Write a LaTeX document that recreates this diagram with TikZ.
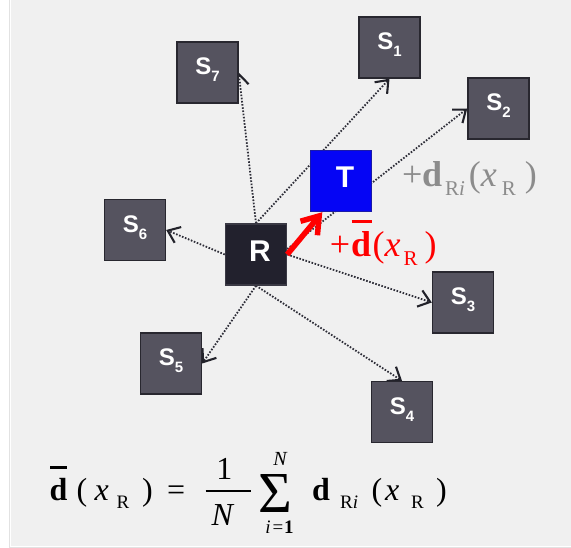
\documentclass[tikz,border=0pt]{standalone}
\usepackage{fontspec}
\setmainfont{Liberation Serif}
\newfontfamily\lsans{Liberation Sans}
\usetikzlibrary{arrows.meta,backgrounds,calc}
\definecolor{bggray}{HTML}{F0F0F0}
\definecolor{bgedge}{HTML}{E2E2E2}
\definecolor{boxfill}{HTML}{55535F}
\definecolor{boxedge}{HTML}{28272F}
\definecolor{rfill}{HTML}{22212D}
\definecolor{redge}{HTML}{3A3944}
\definecolor{tfill}{HTML}{0505F5}
\definecolor{tedge}{HTML}{1A1AA8}
\definecolor{linecol}{HTML}{2E2E38}
\definecolor{tipcol}{HTML}{22222A}
\definecolor{labgray}{HTML}{8C8C8C}
\newcommand{\Slab}[1]{{\fontsize{24}{24}\selectfont S}\raisebox{-7pt}{\fontsize{15}{15}\selectfont #1}}
\newcommand{\bard}[4]{\leavevmode\rlap{\hspace{#1}\rule[#2]{#3}{#4}}\textbf{d}}
\newcommand{\sub}[2]{\raisebox{-#1}{\fontsize{21}{21}\selectfont #2}}
\begin{document}
\begin{tikzpicture}[x=1pt,y=-1pt,
  sbox/.style={rectangle, minimum size=61pt, inner sep=0pt, fill=boxfill, draw=boxedge,
    line width=1.4pt, text=white, font=\lsans\bfseries, text height=4.5pt, text depth=0pt},
  bigbox/.style={rectangle, minimum size=61pt, inner sep=0pt, text=white,
    font=\lsans\bfseries\fontsize{30}{30}\selectfont, text height=14pt, text depth=0pt, line width=1.4pt},
  ray/.style={draw=linecol, line width=1.8pt, dash pattern=on 1.6pt off 1.6pt,
    -{Straight Barb[length=11pt,width=17pt,line width=2.1pt,color=tipcol]}},
  redarrow/.style={draw=red, line width=5.5pt, -{Straight Barb[length=16pt,width=22pt]}},
  lab/.style={anchor=base west, inner sep=0pt, font=\fontsize{36}{36}\selectfont},
  eqm/.style={inner sep=0pt, font=\fontsize{32}{32}\selectfont},
  eqs/.style={inner sep=0pt, font=\fontsize{19}{19}\selectfont},
]
\useasboundingbox (0,0) rectangle (571,548);

\node[sbox] (S7) at (207.5,72.5) {\Slab{7}};
\node[sbox] (S1) at (389.5,47.5) {\Slab{1}};
\node[sbox] (S2) at (498.5,108.5) {\Slab{2}};
\node[sbox] (S6) at (135,230) {\Slab{6}};
\node[sbox] (S3) at (463,302.5) {\Slab{3}};
\node[sbox] (S5) at (171,363.5) {\Slab{5}};
\node[sbox] (S4) at (402,412) {\Slab{4}};
\node[bigbox, fill=rfill, draw=redge] (R) at (256,254.5) {\hspace{8pt}R};
\node[bigbox, fill=tfill, draw=tedge] (T) at (341,181) {\hspace{8pt}T};

\begin{scope}[on background layer]
  \fill[bggray] (10.5,0) rectangle (571,546);
  \draw[bgedge, line width=0.6pt] (9.5,0) -- (9.5,547) -- (571,547);
  \draw[ray] (R.north) -- (S7.east);
  \draw[ray] (R.north) -- (S1.south);
  \draw[ray] (R.10) -- (S2.west);
  \draw[ray] (R.west) -- (S6.east);
  \draw[ray] (R.east) -- (S3.west);
  \draw[ray] (R.south) -- (S4.north);
  \draw[ray] (R.south) -- (S5.east);
\end{scope}

\coordinate (tip) at ($(T.south west)!0.2!(T.south east)$);
\draw[redarrow] (R.east) -- (tip);

% labels
\node[lab, text=red] (lred) at (329.6,257)
  {+\hspace{1pt}\bard{0.5pt}{34pt}{20pt}{3pt}\hspace{1.5pt}(\textit{x}\hspace{3pt}\sub{8.6pt}{R}\hspace{7pt})};
\node[lab, text=labgray] (lgray) at (402,187)
  {+\hspace{-0.5pt}\textbf{d}\hspace{3pt}\sub{8.7pt}{R\textit{i}}\hspace{4pt}(\textit{x}\hspace{5pt}\sub{8.7pt}{R}\hspace{9pt})};

% formula
\node[eqm, anchor=base west] (f1) at (49.5,500) {\bard{0.5pt}{31pt}{16.6pt}{2.5pt}};
\node[eqm, anchor=base west] (f2) at (76.5,500) {(};
\node[eqm, anchor=base west] (f3) at (94.5,500) {\textit{x}};
\node[eqs, anchor=base west] (f4) at (116.5,508.6) {R};
\node[eqm, anchor=base west] (f5) at (142,500) {)};
\node[eqm, anchor=base west] (f6) at (167,500) {=};
\node[eqm, anchor=base] (f7) at (224.3,479) {1};
\node[eqm, anchor=base] (f8) at (223,525) {\textit{N}};
\draw[line width=1.5pt] (205.7,491) -- (251,491);
\node[inner sep=0pt, font=\fontsize{58}{58}\selectfont, text height=37pt, text depth=0pt, anchor=base] (f9) at (275,512) {Σ};
\node[inner sep=0pt, font=\fontsize{20}{20}\selectfont, text height=13pt, text depth=0pt, anchor=base] (f10) at (280.5,465.5) {\textit{N}};
\node[eqs, text height=13pt, text depth=0pt, anchor=base] (f11) at (279.5,533) {\textit{i}\hspace{2pt}=\hspace{1pt}\textbf{1}};
\node[eqm, anchor=base west] (f12) at (312,500) {\textbf{d}};
\node[eqs, anchor=base west] (f13) at (340,508.6) {R\textit{i}};
\node[eqm, anchor=base west] (f14) at (371.5,500) {(};
\node[eqm, anchor=base west] (f15) at (385,500) {\textit{x}};
\node[eqs, anchor=base west] (f16) at (411,508.6) {R};
\node[eqm, anchor=base west] (f17) at (436,500) {)};
\end{tikzpicture}
\end{document}
